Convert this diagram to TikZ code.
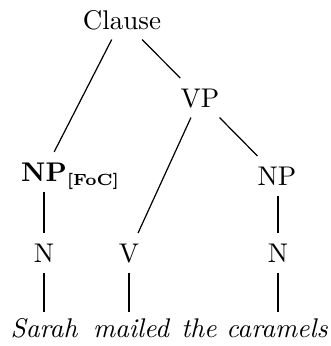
\documentclass[tikz,border=0pt]{standalone}
\begin{document}
\begin{tikzpicture}[x=0.37pt,y=-0.37pt,
  cat/.style={anchor=base,inner sep=3.7pt,text depth=0pt},
  word/.style={anchor=base,inner sep=2pt,font=\itshape},
  edge/.style={line width=0.45pt}]
\useasboundingbox (0,0) rectangle (331,346);
\node[cat] (clause) at (122,29) {Clause};
\node[cat] (vp) at (200,107) {VP};
\node[cat] (npf) at (44,181) {\textbf{NP}\rlap{\raisebox{-1.6pt}{\fontsize{6}{7}\selectfont\bfseries[FoC]}}};
\node[cat] (np) at (277,185) {NP};
\node[cat] (n1) at (44,262) {N};
\node[cat] (v) at (129,262) {V};
\node[cat] (n2) at (278,262) {N};
\node[word] (w1) at (44,337) {Sarah};
\node[word] (w2) at (131,337) {mailed};
\node[word] (w3) at (199,337) {the};
\node[word] (w4) at (277,337) {caramels};
\draw[edge] (clause) -- (npf);
\draw[edge] (clause) -- (vp);
\draw[edge] (vp) -- (v);
\draw[edge] (vp) -- (np);
\draw[edge] (npf.south) -- (npf.south |- n1.north);
\draw[edge] (np.south -| n2) -- (n2.north);
\draw[edge] (n1.south) -- (n1.south |- w1.north);
\draw[edge] (v.south) -- (v.south |- w2.north);
\draw[edge] (n2.south) -- (n2.south |- w4.north);
\end{tikzpicture}
\end{document}
